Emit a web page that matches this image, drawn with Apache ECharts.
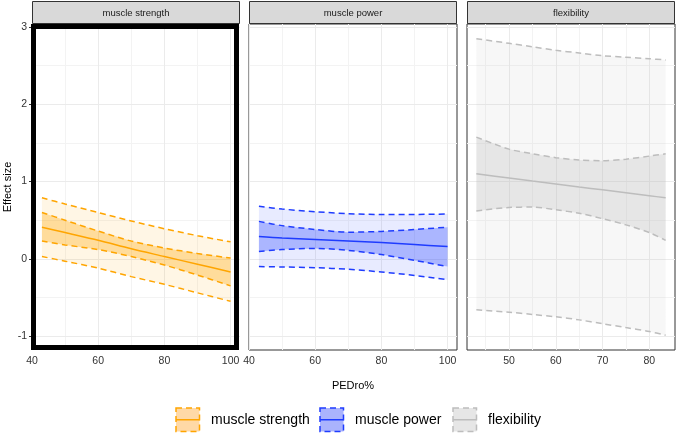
<!DOCTYPE html>
<html>
<head>
<meta charset="utf-8">
<script src="https://cdn.jsdelivr.net/npm/echarts@6/dist/echarts.min.js"></script>
<style>html,body{margin:0;padding:0;background:#fff}#c{width:676px;height:436px}</style>
</head>
<body>
<div id="c"></div>
<script>
// ---- data ----
const panels = ['muscle strength', 'muscle power', 'flexibility'];
const xs1 = [43, 50, 60, 70, 80, 90, 100];
const fit1 = [0.41, 0.34, 0.24, 0.13, 0.03, -0.07, -0.17];
const innerUp1 = [0.60, 0.50, 0.36, 0.23, 0.14, 0.07, 0.01];
const innerLo1 = [0.23, 0.18, 0.12, 0.03, -0.08, -0.21, -0.35];
const outerUp1 = [0.79, 0.71, 0.60, 0.49, 0.39, 0.30, 0.22];
const outerLo1 = [0.03, -0.03, -0.12, -0.23, -0.33, -0.44, -0.55];

const xs2 = [43, 50, 60, 70, 80, 90, 100];
const fit2 = [0.29, 0.27, 0.25, 0.23, 0.21, 0.185, 0.16];
const innerUp2 = [0.485, 0.43, 0.38, 0.345, 0.355, 0.38, 0.41];
const innerLo2 = [0.095, 0.12, 0.135, 0.11, 0.055, -0.02, -0.10];
const outerUp2 = [0.68, 0.645, 0.61, 0.585, 0.575, 0.575, 0.58];
const outerLo2 = [-0.10, -0.105, -0.115, -0.135, -0.17, -0.215, -0.27];

const xs3 = [43, 50, 55, 60, 65, 70, 75, 80, 83.5];
const fit3 = [1.10, 1.046, 1.008, 0.97, 0.93, 0.893, 0.855, 0.817, 0.79];
const innerUp3 = [1.575, 1.42, 1.36, 1.31, 1.28, 1.27, 1.29, 1.33, 1.36];
const innerLo3 = [0.62, 0.665, 0.67, 0.635, 0.59, 0.52, 0.44, 0.34, 0.24];
const outerUp3 = [2.85, 2.79, 2.745, 2.70, 2.665, 2.63, 2.61, 2.59, 2.575];
const outerLo3 = [-0.66, -0.69, -0.72, -0.75, -0.79, -0.84, -0.89, -0.94, -0.99];

const yTicks = [-1, 0, 1, 2, 3];
const yMinor = [-0.5, 0.5, 1.5, 2.5];
const xTicks12 = [40, 60, 80, 100];
const xMinor12 = [50, 70, 90];
const xTicks3 = [50, 60, 70, 80];
const xMinor3 = [45, 55, 65, 75];

// ---- styling ----
const colors = [
  {line: '#FFA500', inner: 'rgba(255,165,0,0.32)', outer: 'rgba(255,165,0,0.1)', key: '#FFD9A6'},
  {line: '#1F3CFF', inner: 'rgba(31,60,255,0.30)', outer: 'rgba(31,60,255,0.1)', key: '#AAB3FD'},
  {line: '#BDBDBD', inner: 'rgba(189,189,189,0.29)', outer: 'rgba(189,189,189,0.12)', key: '#E6E6E6'}
];
const sets = [
  {xs: xs1, fit: fit1, iu: innerUp1, il: innerLo1, ou: outerUp1, ol: outerLo1, xmin: 40, xmax: 102.85, ticks: xTicks12, minor: xMinor12},
  {xs: xs2, fit: fit2, iu: innerUp2, il: innerLo2, ou: outerUp2, ol: outerLo2, xmin: 40, xmax: 102.85, ticks: xTicks12, minor: xMinor12},
  {xs: xs3, fit: fit3, iu: innerUp3, il: innerLo3, ou: outerUp3, ol: outerLo3, xmin: 41, xmax: 85.5, ticks: xTicks3, minor: xMinor3}
];
const gridLefts = [32, 249, 467];
const gridW = 208, gridTop = 24, gridH = 326;
const YMIN = -1.18, YMAX = 3.04;

const grids = [], xAxes = [], yAxes = [], series = [], graphics = [];

function band(i, xs, up, lo, fill) {
  return {
    type: 'custom', xAxisIndex: i, yAxisIndex: i, z: 2, silent: true,
    data: xs.map((x, k) => [x, up[k]]),
    renderItem: function (params, api) {
      if (params.dataIndex !== 0) return;
      const pts = [];
      for (let k = 0; k < xs.length; k++) pts.push(api.coord([xs[k], up[k]]));
      for (let k = xs.length - 1; k >= 0; k--) pts.push(api.coord([xs[k], lo[k]]));
      return {type: 'polygon', shape: {points: pts, smooth: 0}, style: {fill: fill, stroke: null}};
    }
  };
}
function line(i, xs, ys, color, dashed) {
  return {
    type: 'line', xAxisIndex: i, yAxisIndex: i, z: dashed ? 3 : 4, silent: true,
    data: xs.map((x, k) => [x, ys[k]]), smooth: 0.3, symbol: 'none',
    lineStyle: {color: color, width: 1.5, type: dashed ? [6, 4] : 'solid'}
  };
}

sets.forEach((s, i) => {
  const c = colors[i];
  grids.push({left: gridLefts[i], top: gridTop, width: gridW, height: gridH,
    show: true, backgroundColor: '#fff', borderColor: '#333', borderWidth: i === 0 ? 0 : 1});
  xAxes.push({
    type: 'value', gridIndex: i, min: s.xmin, max: s.xmax,
    axisLine: {show: false},
    axisTick: {show: true, length: 3, lineStyle: {color: '#333'}, customValues: s.ticks},
    axisLabel: {color: '#333', fontSize: 10.5, margin: 6, customValues: s.ticks, fontFamily: 'Liberation Sans, Arial'},
    splitLine: {show: false},
    name: i === 1 ? 'PEDro%' : '', nameLocation: 'middle', nameGap: 30,
    nameTextStyle: {color: '#000', fontSize: 11, fontFamily: 'Liberation Sans, Arial'}
  });
  yAxes.push({
    type: 'value', gridIndex: i, min: YMIN, max: YMAX,
    axisLine: {show: false},
    axisTick: {show: i === 0, length: 3, lineStyle: {color: '#333'}, customValues: yTicks},
    axisLabel: {show: i === 0, color: '#333', fontSize: 10.5, margin: 5, customValues: yTicks, fontFamily: 'Liberation Sans, Arial'},
    splitLine: {show: false},
    name: i === 0 ? 'Effect size' : '', nameLocation: 'middle', nameGap: 18, nameRotate: 90,
    nameTextStyle: {color: '#000', fontSize: 11, fontFamily: 'Liberation Sans, Arial'}
  });
  // grid lines via markLine on the library scales
  const ml = [];
  s.minor.forEach(v => ml.push({xAxis: v, lineStyle: {color: '#F3F3F3', width: 1, type: 'solid'}}));
  yMinor.forEach(v => ml.push({yAxis: v, lineStyle: {color: '#F3F3F3', width: 1, type: 'solid'}}));
  s.ticks.forEach(v => ml.push({xAxis: v, lineStyle: {color: '#EBEBEB', width: 1, type: 'solid'}}));
  yTicks.forEach(v => ml.push({yAxis: v, lineStyle: {color: '#EBEBEB', width: 1, type: 'solid'}}));
  series.push({
    type: 'line', xAxisIndex: i, yAxisIndex: i, z: 1, data: [], silent: true,
    markLine: {silent: true, z: 1, zlevel: 0, symbol: 'none', label: {show: false}, animation: false, data: ml}
  });
  series.push(band(i, s.xs, s.ou, s.ol, c.outer));
  series.push(band(i, s.xs, s.iu, s.il, c.inner));
  series.push(line(i, s.xs, s.ou, c.line, true));
  series.push(line(i, s.xs, s.ol, c.line, true));
  series.push(line(i, s.xs, s.iu, c.line, true));
  series.push(line(i, s.xs, s.il, c.line, true));
  series.push(line(i, s.xs, s.fit, c.line, false));

  // strip
  graphics.push({type: 'rect', shape: {x: gridLefts[i] + 0.5, y: 1.5, width: gridW - 1, height: 22}, z: 10,
    style: {fill: '#D9D9D9', stroke: '#333', lineWidth: 1}});
  graphics.push({type: 'text', x: gridLefts[i] + gridW / 2, y: 13, z: 11,
    style: {text: panels[i], fill: '#1A1A1A', font: '9.5px "Liberation Sans", Arial', align: 'center', verticalAlign: 'middle'}});
});

// highlight frame on first panel
graphics.push({type: 'rect', shape: {x: 33.5, y: 26.5, width: 203, height: 321}, z: 20,
  style: {fill: null, stroke: '#000', lineWidth: 5}});

// legend
const legendX = [175, 319, 452];
panels.forEach((p, i) => {
  const x = legendX[i];
  graphics.push({type: 'rect', shape: {x: x + 1, y: 408, width: 23.5, height: 23.5}, z: 10,
    style: {fill: colors[i].key, stroke: colors[i].line, lineWidth: 1.5, lineDash: [6, 4]}});
  graphics.push({type: 'line', shape: {x1: x + 1, y1: 419.75, x2: x + 24.5, y2: 419.75}, z: 11,
    style: {stroke: colors[i].line, lineWidth: 1.5}});
  graphics.push({type: 'text', x: x + 36, y: 420, z: 11,
    style: {text: p, fill: '#000', font: '14px "Liberation Sans", Arial', verticalAlign: 'middle'}});
});

const chart = echarts.init(document.getElementById('c'), null, {renderer: 'canvas'});
chart.setOption({
  animation: false,
  grid: grids, xAxis: xAxes, yAxis: yAxes, series: series, graphic: graphics
});
</script>
</body>
</html>
